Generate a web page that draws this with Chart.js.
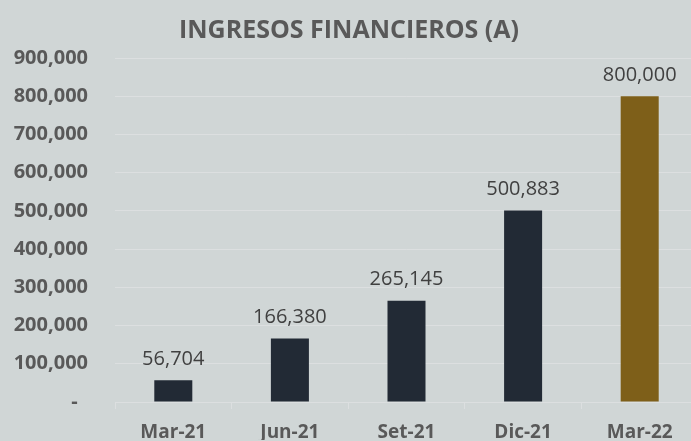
<!DOCTYPE html>
<html>
<head>
<meta charset="utf-8">
<script src="https://cdn.jsdelivr.net/npm/chart.js@4"></script>
<style>
html,body{margin:0;padding:0;background:#d0d6d6;overflow:hidden;}
#wrap{width:700px;height:441px;position:relative;}
</style>
</head>
<body>
<div id="wrap"><canvas id="c"></canvas></div>
<script>
const categories = ['Mar-21','Jun-21','Set-21','Dic-21','Mar-22'];
const values = [56704, 166380, 265145, 500883, 800000];
const barColors = ['#222a35','#222a35','#222a35','#222a35','#7e5f19'];
const yTicks = [0,100000,200000,300000,400000,500000,600000,700000,800000,900000];
const title = 'INGRESOS FINANCIEROS (A)';

const fmt = v => v === 0 ? '-  ' : v.toLocaleString('en-US');

const labelPlugin = {
  id: 'barLabels',
  afterDatasetsDraw(chart) {
    const ctx = chart.ctx;
    const meta = chart.getDatasetMeta(0);
    ctx.save();
    ctx.font = '20px "Open Sans"';
    ctx.fillStyle = '#404040';
    ctx.textAlign = 'center';
    ctx.textBaseline = 'middle';
    meta.data.forEach((bar, i) => {
      ctx.fillText(values[i].toLocaleString('en-US'), bar.x, bar.y - 21);
    });
    ctx.restore();
  }
};

new Chart(document.getElementById('c'), {
  type: 'bar',
  data: {
    labels: categories,
    datasets: [{
      data: values,
      backgroundColor: barColors,
      categoryPercentage: 1,
      barPercentage: 0.326
    }]
  },
  options: {
    responsive: true,
    maintainAspectRatio: false,
    animation: false,
    layout: { padding: { left: 0, right: 2, top: 0, bottom: 0 } },
    plugins: {
      legend: { display: false },
      tooltip: { enabled: false },
      title: {
        display: true,
        text: title,
        color: '#595959',
        font: { family: '"Open Sans"', size: 25, weight: 'bold' },
        padding: { top: 16, bottom: 12 }
      }
    },
    scales: {
      y: {
        min: 0, max: 900000,
        afterBuildTicks: s => { s.ticks = yTicks.map(v => ({ value: v })); },
        afterFit: s => { s.width = 115; },
        border: { display: false },
        grid: { color: '#dcdfe0', lineWidth: 1, drawTicks: false },
        ticks: {
          padding: 27,
          color: '#595959',
          font: { family: '"Open Sans"', size: 20, weight: 'bold' },
          callback: v => fmt(v)
        }
      },
      x: {
        afterFit: s => { s.height = 38; },
        border: { display: true, color: '#dcdfe0' },
        grid: { offset: true, drawOnChartArea: false, tickLength: 7, color: '#dcdfe0' },
        ticks: {
          padding: 12,
          color: '#595959',
          font: { family: '"Open Sans"', size: 19, weight: 'bold' }
        }
      }
    }
  },
  plugins: [labelPlugin]
});
</script>
</body>
</html>
